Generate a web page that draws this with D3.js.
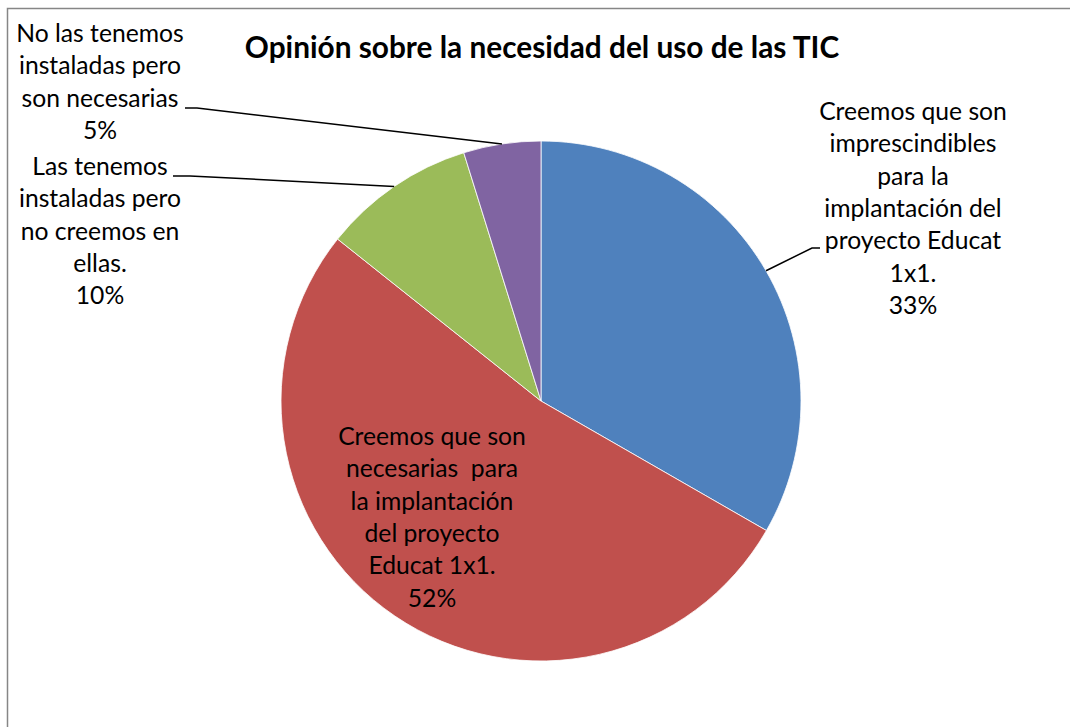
<!DOCTYPE html>
<html><head><meta charset="utf-8">
<script src="https://cdn.jsdelivr.net/npm/d3@7"></script>
<style>html,body{margin:0;padding:0;background:#fff;}svg{display:block;}</style>
</head><body>
<svg id="chart" width="1070" height="727"></svg>
<script>
const title = "Opinión sobre la necesidad del uso de las TIC";
const categories = [
  ["Creemos que son", "imprescindibles", "para la", "implantación del", "proyecto Educat", "1x1."],
  ["Creemos que son", "necesarias  para", "la implantación", "del proyecto", "Educat 1x1."],
  ["Las tenemos", "instaladas pero", "no creemos en", "ellas."],
  ["No las tenemos", "instaladas pero", "son necesarias"]
];
const values = [33.3, 52.4, 9.5, 4.8];
const percentLabels = ["33%", "52%", "10%", "5%"];
const colors = ["#4F81BD", "#C0504D", "#9BBB59", "#8064A2"];

const svg = d3.select("#chart");
const W = 1070, H = 727;
const cx = 541, cy = 401, R = 260;
const font = "Lato, 'Open Sans', sans-serif";

svg.append("rect").attr("x", 7.5).attr("y", 8.5).attr("width", W).attr("height", H)
  .attr("fill", "#fff").attr("stroke", "#868686").attr("stroke-width", 1.5);

svg.append("text").attr("x", 542).attr("y", 58).attr("text-anchor", "middle")
  .attr("font-family", font).attr("font-weight", "bold").attr("font-size", 29.8)
  .attr("fill", "#000").text(title);

const pie = d3.pie().sort(null).value(d => d)(values);
const arc = d3.arc().innerRadius(0).outerRadius(R);
const edge = d3.arc().innerRadius(R).outerRadius(R);

const g = svg.append("g").attr("transform", `translate(${cx},${cy})`);
g.selectAll("path.slice").data(pie).join("path").attr("class", "slice")
  .attr("d", arc).attr("fill", (d, i) => colors[i])
  .attr("stroke", "#fff").attr("stroke-width", 0.8);

// label layout: centre x, first baseline y, leader elbow points
const layout = [
  {x: 913, y: 120, leader: [[812, 248], [820, 248]]},
  {x: 432, y: 445, leader: null},
  {x: 100, y: 175, leader: [[190, 176], [173, 176]]},
  {x: 100, y: 42, leader: [[197, 108], [185, 108]]}
];
const lh = 32.3;

pie.forEach((d, i) => {
  const L = layout[i];
  if (L.leader) {
    const c = edge.centroid(d);
    const pts = [[cx + c[0], cy + c[1]]].concat(L.leader);
    svg.append("path").attr("d", d3.line()(pts)).attr("fill", "none")
      .attr("stroke", "#000").attr("stroke-width", 1.5);
  }
  const lines = categories[i].concat([percentLabels[i]]);
  const t = svg.append("text").attr("text-anchor", "middle")
    .attr("font-family", font).attr("font-size", 24.7).attr("fill", "#000")
    .style("white-space", "pre");
  lines.forEach((s, k) => {
    t.append("tspan").attr("x", L.x).attr("y", L.y + k * lh).text(s);
  });
});
</script>
</body></html>
